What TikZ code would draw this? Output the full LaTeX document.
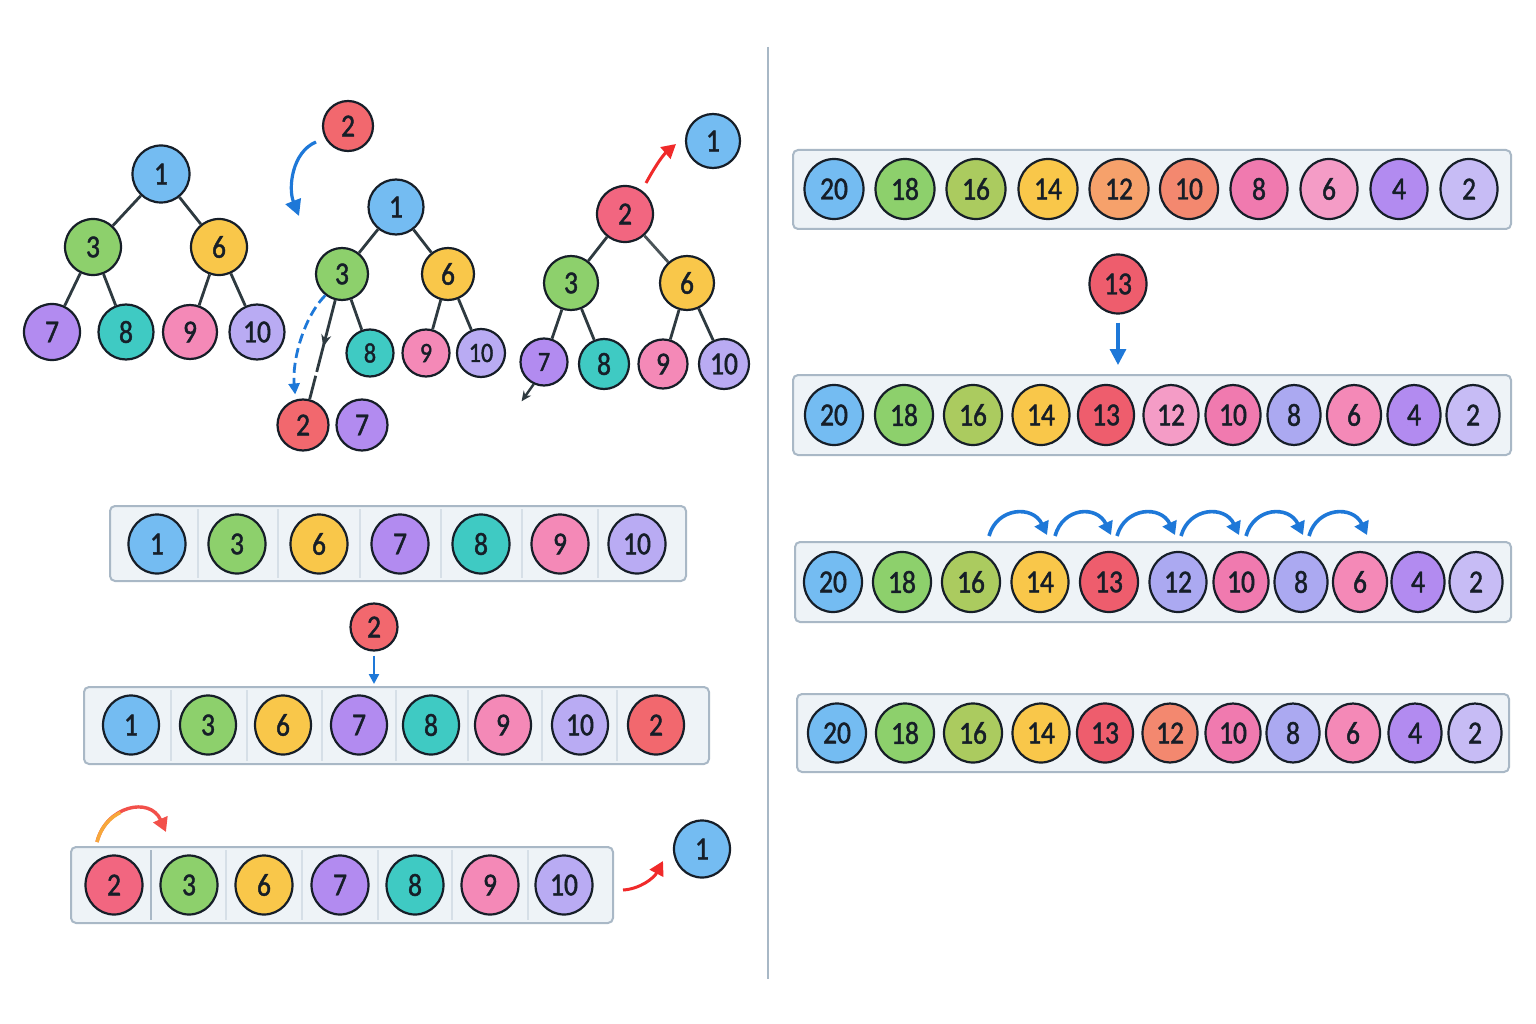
\documentclass[tikz,border=0pt]{standalone}
\usepackage{fontspec}
\setmainfont{Carlito}
\newfontfamily\numfont[FakeStretch=0.86,FakeBold=1.4]{Carlito}
\usetikzlibrary{shapes.geometric,arrows.meta,decorations.markings}
\definecolor{ink}{HTML}{161E28}
\definecolor{edgec}{HTML}{2E3A40}
\definecolor{edgel}{HTML}{4A5458}
\definecolor{boxline}{HTML}{A9B8C6}
\definecolor{boxfill}{HTML}{EEF3F7}
\definecolor{sepc}{HTML}{D6DFE7}
\definecolor{vlinec}{HTML}{A8B8C6}
\definecolor{arrblue}{HTML}{1E78D8}
\definecolor{arrred}{HTML}{F02A2A}
\definecolor{arrcoral}{HTML}{F2504A}
\definecolor{arrorange}{HTML}{F7A83A}
\definecolor{cblue}{HTML}{74BCF2}
\definecolor{cgreen}{HTML}{8DD06C}
\definecolor{cyg}{HTML}{ABCB5F}
\definecolor{cyellow}{HTML}{F9C74A}
\definecolor{corange}{HTML}{F6A16B}
\definecolor{csalmon}{HTML}{F3886F}
\definecolor{chot}{HTML}{F07AAF}
\definecolor{cpinkl}{HTML}{F49CC6}
\definecolor{cpink}{HTML}{F489B7}
\definecolor{cpurple}{HTML}{B28BF0}
\definecolor{clav}{HTML}{B9ABF3}
\definecolor{clavl}{HTML}{C7BCF5}
\definecolor{clavb}{HTML}{ABA9F1}
\definecolor{cteal}{HTML}{3FCAC3}
\definecolor{cred}{HTML}{F2686E}
\definecolor{cred13}{HTML}{EE5D6D}
\definecolor{cpinkred}{HTML}{F26680}
\begin{document}
\begin{tikzpicture}[x=1pt,y=-1pt,
  ball/.style={circle, draw=ink, line width=2.2pt, inner sep=0pt, text=ink,
    font=\numfont\fontsize{32pt}{32pt}\selectfont},
  sball/.style={ball, font=\numfont\fontsize{28pt}{28pt}\selectfont},
  eball/.style={ellipse, draw=ink, line width=2.2pt, inner sep=0pt, text=ink,
    minimum height=59pt, font=\numfont\fontsize{32pt}{32pt}\selectfont},
  treeline/.style={draw=edgec, line width=2.8pt},
  arrbox/.style={draw=boxline, fill=boxfill, line width=2pt, rounded corners=5pt},
  cellsep/.style={draw=sepc, line width=1.5pt},
  bluearrow/.style={draw=arrblue, line width=3.2pt, -{Triangle[length=16pt,width=16pt]}},
  thinblue/.style={draw=arrblue, line width=2.4pt, -{Triangle[length=10pt,width=10pt]}},
  arcblue/.style={draw=arrblue, line width=3.6pt, -{Triangle[length=13pt,width=15pt]}},
  redarrow/.style={draw=arrred, line width=3pt, -{Triangle[length=14pt,width=15pt]}},
]
\useasboundingbox (0,0) rectangle (1536,1024);
\fill[white] (0,0) rectangle (1536,1024);

% ---------- Tree 1 ----------
\node[ball,fill=cblue,minimum size=57pt] (t1a) at (161,174) {1};
\node[ball,fill=cgreen,minimum size=56pt] (t1b) at (93,247) {3};
\node[ball,fill=cyellow,minimum size=56pt] (t1c) at (219,247) {6};
\node[ball,fill=cpurple,minimum size=56pt] (t1d) at (52,332) {7};
\node[ball,fill=cteal,minimum size=55pt] (t1e) at (126,332) {8};
\node[ball,fill=cpink,minimum size=54pt] (t1f) at (190,332) {9};
\node[ball,fill=clav,minimum size=55pt] (t1g) at (257,332) {10};
\draw[treeline] (t1a) -- (t1b);
\draw[treeline] (t1a) -- (t1c);
\draw[treeline] (t1b) -- (t1d);
\draw[treeline] (t1b) -- (t1e);
\draw[treeline] (t1c) -- (t1f);
\draw[treeline] (t1c) -- (t1g);

% ---------- inserted 2 and curved arrow ----------
\node[ball,fill=cred,minimum size=50pt] (q2) at (348,126) {2};
\coordinate (q2s) at (316,142);
\coordinate (q2e) at (299,216);
\draw[bluearrow] (q2s) .. controls (292,152) and (288,188) .. (q2e);

% ---------- Tree 2 ----------
\node[ball,fill=cblue,minimum size=55pt] (t2a) at (396,207) {1};
\node[ball,fill=cgreen,minimum size=52pt] (t2b) at (342,274) {3};
\node[ball,fill=cyellow,minimum size=52pt] (t2c) at (448,274) {6};
\node[sball,fill=cteal,minimum size=47pt] (t2e) at (370,353) {8};
\node[sball,fill=cpink,minimum size=47pt] (t2f) at (426,353) {9};
\node[sball,fill=clav,minimum size=48pt] (t2g) at (481,353) {10};
\node[ball,fill=cred,minimum size=51pt] (t2r) at (303,425) {2};
\node[ball,fill=cpurple,minimum size=51pt] (t2d) at (362,425) {7};
\draw[treeline] (t2a) -- (t2b);
\draw[treeline] (t2a) -- (t2c);
\draw[treeline] (t2b) -- (t2e);
\draw[treeline] (t2c) -- (t2f);
\draw[treeline] (t2c) -- (t2g);
\draw[treeline, dash pattern=on 40pt off 4pt on 30pt off 4pt on 60pt,
  postaction={decorate},
  decoration={markings, mark=at position 0.47 with {\arrow{Stealth[length=12pt,width=10pt]}}}]
  (t2b) -- (t2r);
\draw[draw=arrblue, line width=2.8pt, dash pattern=on 10pt off 5pt,
  -{Triangle[length=11pt,width=11pt]}, shorten >=5pt]
  (t2b.232) .. controls (303,318) and (292,362) .. (t2r.106);

% ---------- Tree 3 ----------
\node[ball,fill=cpinkred,minimum size=56pt] (t3a) at (625,214) {2};
\node[ball,fill=cgreen,minimum size=54pt] (t3b) at (571,283) {3};
\node[ball,fill=cyellow,minimum size=54pt] (t3c) at (687,283) {6};
\node[sball,fill=cpurple,minimum size=47pt] (t3d) at (544,362) {7};
\node[ball,fill=cteal,minimum size=50pt] (t3e) at (604,364) {8};
\node[ball,fill=cpink,minimum size=49pt] (t3f) at (663,364) {9};
\node[ball,fill=clav,minimum size=50pt] (t3g) at (724,364) {10};
\node[ball,fill=cblue,minimum size=54pt] (top1) at (713,141) {1};
\draw[treeline] (t3a) -- (t3b);
\draw[treeline, draw=edgel] (t3a) -- (t3c);
\draw[treeline] (t3b) -- (t3d);
\draw[treeline] (t3b) -- (t3e);
\draw[treeline] (t3c) -- (t3f);
\draw[treeline] (t3c) -- (t3g);
\coordinate (r3s) at (646,183);
\coordinate (r3e) at (676,144);
\draw[redarrow] (r3s) .. controls (653,170) and (662,156) .. (r3e);
\draw[draw=edgec, line width=2.4pt, -{Stealth[length=10pt,width=9pt]}] (t3d.245) -- ++(-12,17);

% ---------- Array A ----------
\draw[arrbox] (110,506) rectangle (686,581);
\foreach \x in {198,278,360,441,522,598} \draw[cellsep] (\x,509) -- (\x,578);
\foreach \x/\v/\c [count=\i] in {157/1/cblue,237/3/cgreen,319/6/cyellow,400/7/cpurple,481/8/cteal,560/9/cpink,637/10/clav}
  \node[eball,fill=\c,minimum width=57pt] (A\i) at (\x,544) {\v};

\node[ball,fill=cred,minimum size=47pt] (q2b) at (374,627) {2};
\coordinate (q2bt) at (374,684);
\draw[thinblue] ([yshift=-4pt]q2b.south) -- (q2bt);

% ---------- Array B ----------
\draw[arrbox] (84,687) rectangle (709,764);
\foreach \x in {171,247,322,396,468,542,617} \draw[cellsep] (\x,690) -- (\x,761);
\foreach \x/\v/\c [count=\i] in {131/1/cblue,208/3/cgreen,283/6/cyellow,359/7/cpurple,431/8/cteal,503/9/cpink,580/10/clav,656/2/cred}
  \node[eball,fill=\c,minimum width=56pt] (B\i) at (\x,725) {\v};

% ---------- Array C ----------
\draw[arrbox] (71,847) rectangle (613,923);
\draw[draw=boxline, line width=1.5pt] (151,850) -- (151,920);
\foreach \x in {226,302,378,452,528} \draw[cellsep] (\x,850) -- (\x,920);
\foreach \x/\v/\c [count=\i] in {114/2/cpinkred,189/3/cgreen,264/6/cyellow,340/7/cpurple,415/8/cteal,490/9/cpink,564/10/clav}
  \node[eball,fill=\c,minimum width=57pt] (C\i) at (\x,885) {\v};
\coordinate (oas) at (97,842);
\coordinate (oae) at (166,832);
\draw[draw=arrcoral, line width=3.4pt, -{Triangle[length=14pt,width=15pt]}]
  (oas) .. controls (106,806) and (150,796) .. (oae);
\draw[draw=arrorange, line width=3.4pt]
  (oas) .. controls (100.6,827.6) and (109.8,817.4) .. (120.5,812.5);
\node[eball,fill=cblue,minimum width=56pt,minimum height=57pt] (bot1) at (702,849) {1};
\coordinate (cas) at (623,890);
\coordinate (cae) at (663,861);
\draw[redarrow] (cas) .. controls (640,889) and (654,878) .. (cae);

% ---------- divider ----------
\coordinate (vt) at (768,47);
\coordinate (vb) at (768,979);
\draw[draw=vlinec, line width=2.2pt] (vt) -- (vb);

% ---------- Right arrays ----------
\draw[arrbox] (793,150) rectangle (1511,229);
\foreach \x/\v/\c/\w [count=\i] in {834/20/cblue/59,905/18/cgreen/59,976/16/cyg/59,1048/14/cyellow/59,1119/12/corange/59,1189/10/csalmon/58,1259/8/chot/57,1329/6/cpinkl/57,1399/4/cpurple/57,1469/2/clavl/57}
  \node[eball,fill=\c,minimum width=\w pt,minimum height=60pt] (R\i) at (\x,189) {\v};

\node[eball,fill=cred13,minimum width=57pt,minimum height=59pt] (n13) at (1118,284) {13};
\coordinate (n13t) at (1118,365);
\draw[bluearrow] ([yshift=-8pt]n13.south) -- (n13t);

\draw[arrbox] (793,375) rectangle (1511,455);
\foreach \x/\v/\c/\w [count=\i] in {834/20/cblue/58,904/18/cgreen/58,973/16/cyg/58,1041/14/cyellow/57,1106/13/cred13/56,1171/12/cpinkl/55,1233/10/chot/55,1294/8/clavb/53,1354/6/cpink/54,1414/4/cpurple/53,1473/2/clavl/53}
  \node[eball,fill=\c,minimum width=\w pt,minimum height=60pt] (S\i) at (\x,415) {\v};

\draw[arrbox] (795,542) rectangle (1511,622);
\foreach \x/\v/\c/\w [count=\i] in {833/20/cblue/58,902/18/cgreen/58,971/16/cyg/58,1040/14/cyellow/57,1109/13/cred13/58,1178/12/clavb/57,1241/10/chot/55,1301/8/clavb/53,1360/6/cpink/54,1418/4/cpurple/53,1476/2/clavl/53}
  \node[eball,fill=\c,minimum width=\w pt,minimum height=60pt] (U\i) at (\x,582) {\v};
\foreach \s/\e [count=\i] in {989/1047,1055/1111,1117/1175,1181/1239,1246/1303,1309/1367}{
  \coordinate (as\i) at (\s,536);
  \coordinate (ae\i) at (\e,535);
  \draw[arcblue] (as\i) .. controls (\s+8,507) and (\e-14,505) .. (ae\i);
}

\draw[arrbox] (797,694) rectangle (1509,772);
\foreach \x/\v/\c/\w [count=\i] in {837/20/cblue/58,905/18/cgreen/58,973/16/cyg/58,1041/14/cyellow/57,1105/13/cred13/56,1170/12/csalmon/55,1233/10/chot/55,1293/8/clavb/53,1353/6/cpink/54,1415/4/cpurple/53,1475/2/clavl/53}
  \node[eball,fill=\c,minimum width=\w pt,minimum height=59pt] (V\i) at (\x,733) {\v};
\end{tikzpicture}
\end{document}
